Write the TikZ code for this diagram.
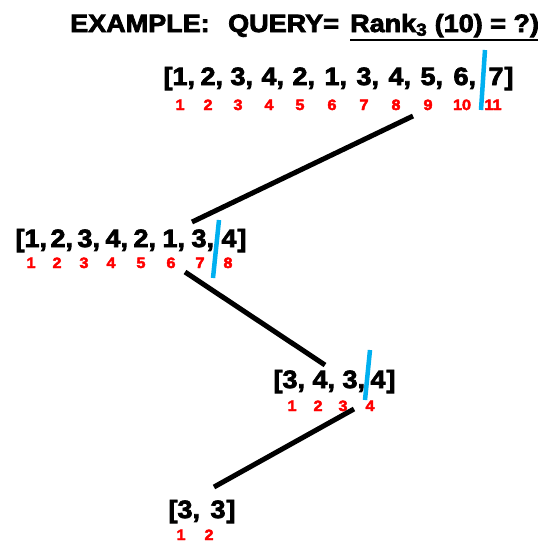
\documentclass[tikz,border=0pt]{standalone}
\usepackage{fontspec}
\setmainfont{Liberation Sans}
\newfontfamily\heavy{Liberation Sans Bold}[FakeBold=3, FakeStretch=1.08]
\definecolor{idxred}{HTML}{FF0000}
\definecolor{cutblue}{HTML}{00B0F0}
% bracket and comma helpers that hang outside the digit box
\newcommand\openbr{\llap{[}}
\newcommand\closebr{\rlap{\kern1pt]}}
\newcommand\sepc{\rlap{,}}
\begin{document}
\begin{tikzpicture}[x=1pt,y=-1pt,
  elem/.style={font=\heavy\fontsize{25}{25}\selectfont, inner sep=0pt, anchor=base},
  idx/.style={font=\heavy\fontsize{15}{15}\selectfont, text=idxred, inner sep=0pt, anchor=base},
  headline/.style={font=\heavy\fontsize{25}{25}\selectfont, inner sep=0pt, anchor=base west},
  cut/.style={draw=cutblue, line width=4.5pt},
  link/.style={draw=black, line width=5pt}]
\useasboundingbox (0,0) rectangle (538,542);

% heading
\node[headline] (ex) at (70,32) {EXAMPLE:};
\node[headline] (qu) at (228,32) {QUERY=};
\node[headline] (rk) at (350,32) {Rank\textsubscript{3} (10) = ?)};
\draw[line width=2.5pt] ([yshift=-8pt]rk.base west) -- ([yshift=-8pt]rk.base east);

% level 1 array
\foreach \x/\t [count=\i] in {180/\openbr1\sepc, 208/2\sepc, 238/3\sepc, 269/4\sepc,
    300/2\sepc, 332/1\sepc, 364/3\sepc, 396/4\sepc, 428/5\sepc, 461/6\sepc, 496/7\closebr}
  \node[elem] (a\i) at (\x,85) {\t};
\foreach \x/\t [count=\i] in {180/1, 208/2, 238/3, 269/4, 300/5, 332/6, 364/7, 396/8,
    428/9, 462/10, 493/11}
  \node[idx] (ai\i) at (\x,110) {\t};

% level 2 array
\foreach \x/\t [count=\i] in {32/\openbr1\sepc, 58/2\sepc, 85/3\sepc, 113/4\sepc,
    141/2\sepc, 170/1\sepc, 199/3\sepc, 229/4\closebr}
  \node[elem] (b\i) at (\x,247) {\t};
\foreach \x/\t [count=\i] in {31/1, 57/2, 84/3, 111/4, 141/5, 171/6, 200/7, 228/8}
  \node[idx] (bi\i) at (\x,268) {\t};

% level 3 array
\foreach \x/\t [count=\i] in {290/\openbr3\sepc, 320/4\sepc, 350/3\sepc, 378/4\closebr}
  \node[elem] (c\i) at (\x,388) {\t};
\foreach \x/\t [count=\i] in {292/1, 318/2, 343/3, 370/4}
  \node[idx] (ci\i) at (\x,411) {\t};

% level 4 array
\foreach \x/\t [count=\i] in {185/\openbr3\sepc, 218/3\closebr}
  \node[elem] (d\i) at (\x,518) {\t};
\foreach \x/\t [count=\i] in {181/1, 209/2}
  \node[idx] (di\i) at (\x,540) {\t};

% split marks
\coordinate (s1a) at (485,50);  \coordinate (s1b) at (481,110);
\coordinate (s2a) at (219,220); \coordinate (s2b) at (213,278);
\coordinate (s3a) at (370,350); \coordinate (s3b) at (365,400);
\draw[cut] (s1a) -- (s1b);
\draw[cut] (s2a) -- (s2b);
\draw[cut] (s3a) -- (s3b);

% links between levels
\coordinate (k1a) at (413,116); \coordinate (k1b) at (192,222);
\coordinate (k2a) at (185,272); \coordinate (k2b) at (325,365);
\coordinate (k3a) at (354,409); \coordinate (k3b) at (214,487);
\draw[link] (k1a) -- (k1b);
\draw[link] (k2a) -- (k2b);
\draw[link] (k3a) -- (k3b);
\end{tikzpicture}
\end{document}
